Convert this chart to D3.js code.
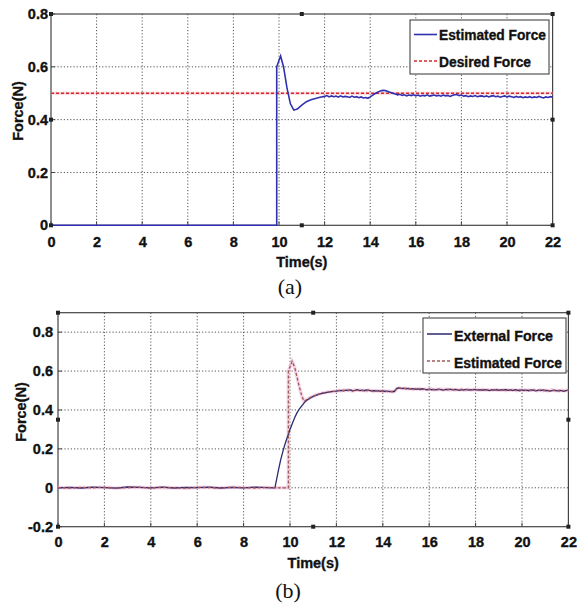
<!DOCTYPE html>
<html>
<head>
<meta charset="utf-8">
<script src="https://cdn.jsdelivr.net/npm/d3@7"></script>
<style>
  html, body { margin: 0; padding: 0; background: #fff; }
  svg { display: block; }
  .lbl { font-family: "Liberation Sans", Arial, Helvetica, sans-serif; font-weight: 700; font-size: 14.5px; fill: #111; stroke: #111; stroke-width: 0.35px; }
  .cap { font-family: "Liberation Serif", "Times New Roman", serif; font-size: 22px; fill: #111; }
</style>
</head>
<body>
<svg id="chart" width="578" height="607"></svg>
<script>
// ---------- DATA ----------
const xTicks = [0, 2, 4, 6, 8, 10, 12, 14, 16, 18, 20, 22];
const yTicksA = [0, 0.2, 0.4, 0.6, 0.8];
const yTicksB = [-0.2, 0, 0.2, 0.4, 0.6, 0.8];
const yTickLabelsA = ["0", "0.2", "0.4", "0.6", "0.8"];
const yTickLabelsB = ["-0.2", "0", "0.2", "0.4", "0.6", "0.8"];

// (a) transient part of the estimated force
const timeA = [0, 9.9, 9.9, 10.07, 10.2, 10.35, 10.5, 10.65, 10.8, 11.0, 11.2, 11.4, 11.6, 11.8];
const estA  = [0, 0, 0.60, 0.641, 0.60, 0.52, 0.46, 0.436, 0.44, 0.455, 0.468, 0.475, 0.48, 0.485];
// (a) steady part, sampled every 0.1 s from 12.0 s to 22.0 s
const steadyStart = 12.0, steadyStep = 0.1;
const estASteady = [
  .488, .491, .486, .490, .487, .489, .485, .490, .486, .488,
  .487, .484, .489, .485, .487, .483, .486, .482, .484, .481,
  .486, .492, .498, .503, .507, .510, .511, .509, .506, .503,
  .500, .497, .494, .496, .492, .494, .490, .493, .491, .494,
  .490, .493, .489, .492, .490, .494, .489, .491, .493, .490,
  .492, .489, .493, .490, .492, .488, .491, .494, .495, .491,
  .493, .489, .491, .487, .490, .488, .491, .487, .489, .490,
  .487, .490, .486, .489, .491, .487, .489, .485, .488, .490,
  .486, .489, .487, .484, .488, .485, .487, .483, .486, .484,
  .487, .483, .486, .484, .488, .485, .482, .486, .484, .487,
  .486
];
const desiredForce = 0.5;

// (b) external force, transient
const timeBExt = [0, 0.5, 1, 1.5, 2, 2.5, 3, 3.5, 4, 4.5, 5, 5.5, 6, 6.5, 7, 7.5, 8, 8.5, 9, 9.35,
  9.5, 9.6, 9.7, 9.8, 9.9, 10.0, 10.1, 10.2, 10.3, 10.4, 10.5, 10.6, 10.7, 10.8, 10.9, 11.0, 11.2, 11.4, 11.6, 11.8];
const extB = [0, .002, -.001, .003, .001, -.002, .004, .002, 0, .003, -.001, .002, .001, .003, -.001, .002, 0, .003, .001, 0,
  .09, .145, .19, .23, .265, .30, .33, .36, .385, .405, .42, .435, .447, .456, .463, .47, .479, .486, .491, .494];
const extBSteady = [
  .497, .499, .501, .498, .502, .500, .503, .499, .501, .504,
  .500, .502, .499, .503, .501, .498, .500, .497, .499, .496,
  .498, .495, .497, .494, .496, .495, .511, .513, .510, .512,
  .509, .511, .507, .510, .506, .508, .505, .509, .506, .504,
  .507, .504, .506, .503, .507, .505, .502, .506, .504, .507,
  .503, .506, .504, .501, .505, .503, .506, .502, .505, .503,
  .506, .502, .504, .501, .505, .503, .500, .504, .502, .505,
  .501, .504, .502, .505, .501, .503, .500, .504, .502, .499,
  .503, .500, .502, .499, .503, .501, .498, .502, .500, .503,
  .499, .501, .497, .500, .502, .498, .501, .499, .496, .500,
  .502
];
// (b) estimated force, transient
const timeBEst = [0, 0.5, 1, 1.5, 2, 2.5, 3, 3.5, 4, 4.5, 5, 5.5, 6, 6.5, 7, 7.5, 8, 8.5, 9, 9.5, 9.93, 9.93,
  10.09, 10.2, 10.3, 10.4, 10.5, 10.6, 10.7, 10.8, 10.9, 11.0, 11.1, 11.2, 11.3, 11.4, 11.5, 11.6, 11.7, 11.8, 11.9];
const estB = [.001, -.001, .002, 0, .003, -.002, .001, .003, -.001, .002, 0, -.002, .002, .001, -.001, .003, .001, -.001, .002, 0, 0, .60,
  .65, .62, .57, .52, .475, .445, .452, .458, .466, .47, .476, .48, .483, .487, .489, .492, .493, .495, .496];
const estBSteady = [
  .495, .501, .498, .502, .499, .503, .500, .497, .503, .501,
  .503, .499, .501, .498, .502, .500, .496, .500, .497, .499,
  .495, .498, .494, .497, .493, .497, .508, .514, .511, .509,
  .512, .508, .510, .506, .509, .507, .510, .504, .507, .505,
  .505, .508, .503, .506, .504, .508, .503, .505, .507, .502,
  .506, .502, .505, .503, .507, .501, .504, .506, .502, .506,
  .503, .505, .501, .506, .502, .504, .503, .501, .505, .502,
  .504, .501, .505, .500, .504, .502, .505, .501, .499, .503,
  .500, .503, .499, .502, .500, .504, .500, .499, .503, .498,
  .502, .498, .500, .503, .499, .501, .497, .502, .498, .501,
  .499
];

const legendA = ["Estimated Force", "Desired Force"];
const legendB = ["External Force", "Estimated Force"];

// ---------- HELPERS ----------
function joinSeries(times, vals, steady) {
  const pts = times.map((t, i) => [t, vals[i]]);
  steady.forEach((v, i) => pts.push([+(steadyStart + i * steadyStep).toFixed(2), v]));
  return pts;
}

const svg = d3.select("#chart");

function drawPanel(cfg) {
  const x = d3.scaleLinear().domain([0, 22]).range([cfg.left, cfg.right]);
  const y = d3.scaleLinear().domain(cfg.yDomain).range([cfg.bottom, cfg.top]);
  const g = svg.append("g");

  const gridX = xTicks.filter(t => t > 0 && t < 22);
  const gridY = cfg.yTicks.filter(t => t > cfg.yDomain[0] && t < cfg.yDomain[1]);
  g.append("g").selectAll("line").data(gridX).join("line")
    .attr("x1", d => x(d)).attr("x2", d => x(d))
    .attr("y1", cfg.top).attr("y2", cfg.bottom)
    .attr("stroke", "#555").attr("stroke-width", 1).attr("stroke-dasharray", "1.2,2");
  g.append("g").selectAll("line").data(gridY).join("line")
    .attr("y1", d => y(d)).attr("y2", d => y(d))
    .attr("x1", cfg.left).attr("x2", cfg.right)
    .attr("stroke", "#555").attr("stroke-width", 1).attr("stroke-dasharray", "1.2,2");

  const ax = g.append("g").attr("transform", `translate(0,${cfg.bottom})`)
    .call(d3.axisBottom(x).tickValues(xTicks).tickSize(0).tickPadding(cfg.xPad).tickFormat(d3.format("d")));
  ax.select(".domain").remove();
  ax.attr("font-size", null).attr("font-family", null);
  ax.selectAll("text").attr("class", "lbl").attr("fill", null);
  const ay = g.append("g").attr("transform", `translate(${cfg.left},0)`)
    .call(d3.axisLeft(y).tickValues(cfg.yTicks).tickSize(0).tickPadding(cfg.yPad)
      .tickFormat((d, i) => cfg.yLabels[i]));
  ay.select(".domain").remove();
  ay.attr("font-size", null).attr("font-family", null);
  ay.selectAll("text").attr("class", "lbl").attr("fill", null);

  g.append("g").selectAll("line").data(xTicks).join("line")
    .attr("x1", d => x(d)).attr("x2", d => x(d))
    .attr("y1", cfg.bottom).attr("y2", cfg.bottom - 4).attr("stroke", "#444");
  g.append("g").selectAll("line").data(cfg.yTicks).join("line")
    .attr("x1", cfg.left).attr("x2", cfg.left + 4)
    .attr("y1", d => y(d)).attr("y2", d => y(d)).attr("stroke", "#444");

  g.append("rect").attr("x", cfg.left).attr("y", cfg.top)
    .attr("width", cfg.right - cfg.left).attr("height", cfg.bottom - cfg.top)
    .attr("fill", "none").attr("stroke", "#444").attr("stroke-width", 1.2);

  g.append("text").attr("class", "lbl").attr("text-anchor", "middle")
    .attr("x", (cfg.left + cfg.right) / 2).attr("y", cfg.xTitleY).text("Time(s)");
  g.append("text").attr("class", "lbl").attr("text-anchor", "middle")
    .attr("transform", `translate(${cfg.yTitleX},${cfg.yTitleY}) rotate(-90)`).text("Force(N)");

  return { x, y, g };
}

const line = (x, y) => d3.line().x(d => x(d[0])).y(d => y(d[1]));

// ---------- PANEL (a) ----------
const A = drawPanel({
  left: 51, right: 552.6, top: 14, bottom: 225.3, yDomain: [0, 0.8],
  yTicks: yTicksA, yLabels: yTickLabelsA, xPad: 11, yPad: 3,
  xTitleY: 267, yTitleX: 22.5, yTitleY: 111
});
const dataA = joinSeries(timeA, estA, estASteady);
A.g.append("line").attr("x1", A.x(0)).attr("x2", A.x(22))
  .attr("y1", A.y(desiredForce)).attr("y2", A.y(desiredForce))
  .attr("stroke", "#f4b8c8").attr("stroke-width", 3).attr("opacity", 0.6);
A.g.append("line").attr("x1", A.x(0)).attr("x2", A.x(22))
  .attr("y1", A.y(desiredForce)).attr("y2", A.y(desiredForce))
  .attr("stroke", "#d82828").attr("stroke-width", 1.3).attr("stroke-dasharray", "3,2");
A.g.append("path").datum(dataA).attr("d", line(A.x, A.y))
  .attr("fill", "none").attr("stroke", "#3030b0").attr("stroke-width", 1.6);

// legend (a)
const LA = svg.append("g");
LA.append("rect").attr("x", 410).attr("y", 20).attr("width", 139).attr("height", 54)
  .attr("fill", "#fff").attr("stroke", "#333").attr("stroke-width", 1);
LA.append("line").attr("x1", 414).attr("x2", 437).attr("y1", 34.5).attr("y2", 34.5)
  .attr("stroke", "#3030b0").attr("stroke-width", 1.6);
LA.append("line").attr("x1", 414).attr("x2", 437).attr("y1", 61).attr("y2", 61)
  .attr("stroke", "#d82828").attr("stroke-width", 1.3).attr("stroke-dasharray", "3,2");
LA.selectAll("text.leg").data(legendA).join("text").attr("class", "lbl leg")
  .attr("x", 439).attr("y", (d, i) => [40, 67][i])
  .attr("textLength", (d, i) => [107, 92][i]).attr("lengthAdjust", "spacingAndGlyphs")
  .text(d => d);

// ---------- PANEL (b) ----------
const B = drawPanel({
  left: 58, right: 568.4, top: 312.7, bottom: 526.7, yDomain: [-0.2, 0.9],
  yTicks: yTicksB, yLabels: yTickLabelsB, xPad: 10.5, yPad: 5,
  xTitleY: 568, yTitleX: 26, yTitleY: 412
});
const dataBExt = joinSeries(timeBExt, extB, extBSteady);
const dataBEst = joinSeries(timeBEst, estB, estBSteady);
B.g.append("path").datum(dataBEst).attr("d", line(B.x, B.y))
  .attr("fill", "none").attr("stroke", "#f0b0d4").attr("stroke-width", 3.5).attr("opacity", 0.55);
B.g.append("path").datum(dataBExt).attr("d", line(B.x, B.y))
  .attr("fill", "none").attr("stroke", "#2a2a70").attr("stroke-width", 1.3);
B.g.append("path").datum(dataBEst).attr("d", line(B.x, B.y))
  .attr("fill", "none").attr("stroke", "#a05a5a").attr("stroke-width", 1.3).attr("stroke-dasharray", "3,2");

// legend (b)
const LB = svg.append("g");
LB.append("rect").attr("x", 423).attr("y", 318).attr("width", 143).attr("height", 55)
  .attr("fill", "#fff").attr("stroke", "#333").attr("stroke-width", 1);
LB.append("line").attr("x1", 427).attr("x2", 452).attr("y1", 334).attr("y2", 334)
  .attr("stroke", "#2a2a70").attr("stroke-width", 1.5);
LB.append("line").attr("x1", 427).attr("x2", 452).attr("y1", 361).attr("y2", 361)
  .attr("stroke", "#a05a5a").attr("stroke-width", 1.3).attr("stroke-dasharray", "3,2");
LB.selectAll("text.leg").data(legendB).join("text").attr("class", "lbl leg")
  .attr("x", 454).attr("y", (d, i) => [340.5, 367.5][i])
  .attr("textLength", (d, i) => [99, 108][i]).attr("lengthAdjust", "spacingAndGlyphs")
  .text(d => d);

// selection handles (figure decoration)
function handles(l, r, t, b) {
  const mx = (l + r) / 2, my = (t + b) / 2;
  const pts = [[l, t], [mx, t], [r, t], [r, my], [r, b], [mx, b], [l, b], [l, my]];
  svg.append("g").selectAll("rect").data(pts).join("rect")
    .attr("x", d => d[0] - 2).attr("y", d => d[1] - 2).attr("width", 4).attr("height", 4)
    .attr("fill", "#222");
}
handles(51, 552.6, 14, 225.3);
handles(58, 568.4, 312.7, 526.7);

// captions
svg.append("text").attr("class", "cap").attr("text-anchor", "middle").attr("x", 290).attr("y", 294).text("(a)");
svg.append("text").attr("class", "cap").attr("text-anchor", "middle").attr("x", 288).attr("y", 598).text("(b)");
</script>
</body>
</html>
